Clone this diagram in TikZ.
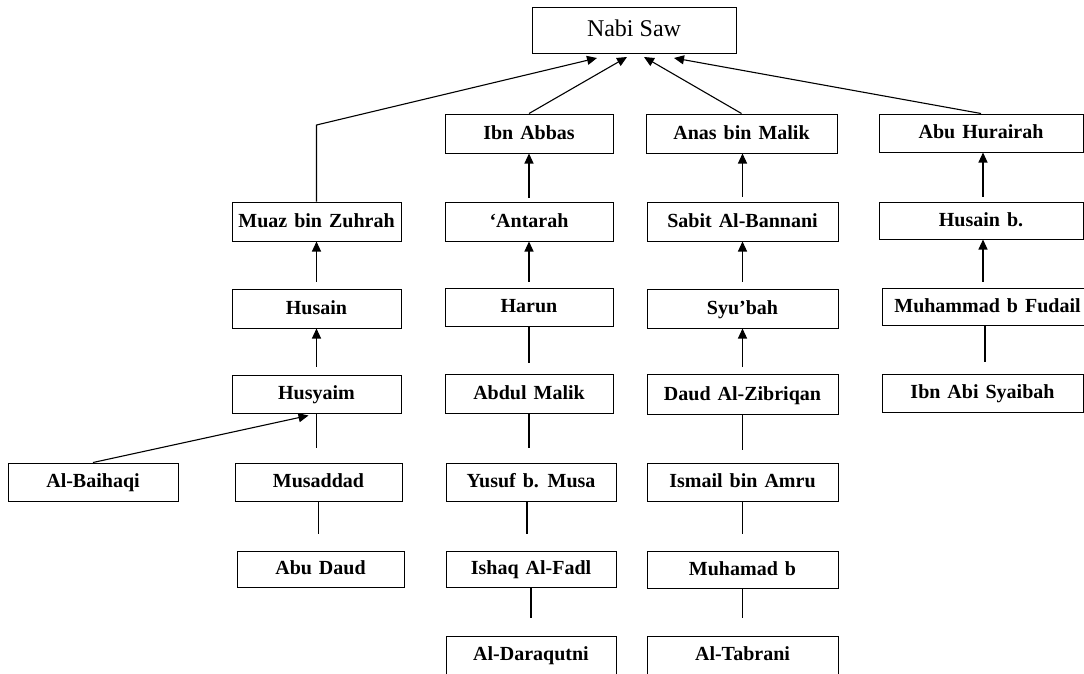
\documentclass[tikz,border=0pt]{standalone}
\usepackage{fontspec}
\setmainfont{Liberation Serif}
\usetikzlibrary{arrows.meta}
\newcommand\widewords{\spaceskip=7pt\relax}
\tikzset{
  box/.style={draw, line width=1pt, rectangle, inner sep=0pt, minimum height=39pt,
    text height=15pt, text depth=4pt,
    font=\fontsize{20}{23}\selectfont\bfseries\widewords},
  arr/.style={line width=1.1pt, -{Triangle[length=10pt,width=9pt]}},
  ln/.style={line width=1.1pt}
}
\begin{document}
\begin{tikzpicture}[x=1pt,y=-1pt]
\useasboundingbox (0,0) rectangle (1084,673);
% top
\node[draw, line width=1pt, minimum width=204pt, minimum height=46pt, inner sep=0pt,
  text height=17pt, text depth=5pt,
  font=\fontsize{24}{28}\selectfont] (nabi) at (634,30) {Nabi Saw};
\coordinate (t1) at (597,58);
\coordinate (t2) at (627,57);
\coordinate (t3) at (644,57);
\coordinate (t4) at (674,58);
\coordinate (corner) at (319,125);
% column A
\node[box, minimum width=169pt] (muaz) at (316.5,221.5) {Muaz bin Zuhrah};
\node[box, minimum width=169pt] (husain) at (316.5,308.5) {Husain};
\node[box, minimum width=169pt, minimum height=38pt] (husyaim) at (316.5,394) {Husyaim};
\node[box, minimum width=170pt, minimum height=38pt] (baihaqi) at (93,482) {Al-Baihaqi};
\node[box, minimum width=167pt, minimum height=38pt] (musaddad) at (318.5,482) {Musaddad};
\node[box, minimum width=167pt, minimum height=36pt] (abudaud) at (320.5,569) {Abu Daud};
% column B
\node[box, minimum width=168pt] (ibnabbas) at (529,133.5) {Ibn Abbas};
\node[box, minimum width=168pt] (antarah) at (529,221.5) {‘Antarah};
\node[box, minimum width=168pt, minimum height=38pt] (harun) at (529,307) {Harun};
\node[box, minimum width=168pt] (abdulmalik) at (529,393.5) {Abdul Malik};
\node[box, minimum width=170pt, minimum height=38pt] (yusuf) at (531,482) {Yusuf b. Musa};
\node[box, minimum width=170pt, minimum height=36pt] (ishaq) at (531,569) {Ishaq Al-Fadl};
\node[box, minimum width=170pt, minimum height=38pt] (daraqutni) at (531,655) {Al-Daraqutni};
% column C
\node[box, minimum width=191pt] (anas) at (741.5,133.5) {Anas bin Malik};
\node[box, minimum width=191pt] (sabit) at (742.5,221.5) {Sabit Al-Bannani};
\node[box, minimum width=191pt] (syubah) at (742.5,308.5) {Syu’bah};
\node[box, minimum width=191pt, minimum height=40pt] (daud) at (742.5,394.5) {Daud Al-Zibriqan};
\node[box, minimum width=191pt, minimum height=38pt] (ismail) at (742.5,482) {Ismail bin Amru};
\node[box, minimum width=191pt, minimum height=37pt] (muhamad) at (742.5,569.5) {Muhamad b};
\node[box, minimum width=191pt, minimum height=38pt] (tabrani) at (742.5,655) {Al-Tabrani};
% column D
\node[box, minimum width=204pt, minimum height=38pt] (abuhurairah) at (981,133) {Abu Hurairah};
\node[box, minimum width=204pt, minimum height=37pt] (husainb) at (981,220.5) {Husain b.};
\node[box, minimum width=211pt, minimum height=37pt] (fudail) at (987.5,306.5) {Muhammad b Fudail};
\node[box, minimum width=201pt, minimum height=38pt] (syaibah) at (982.5,393) {Ibn Abi Syaibah};
% connectors to Nabi Saw
\draw[arr] (muaz.north) -- (muaz.north |- corner) -- (t1);
\draw[arr] (ibnabbas.north) -- (t2);
\draw[arr] (anas.north) -- (t3);
\draw[arr] (abuhurairah.north) -- (t4);
% column A
\draw[arr] ([yshift=7pt]husain.north) -- (husain.north |- muaz.south);
\draw[arr] ([yshift=8pt]husyaim.north) -- (husyaim.north |- husain.south);
\draw[arr] (baihaqi.north) -- ([xshift=-8pt,yshift=-2pt]husyaim.south);
\draw[ln] (husyaim.south) -- ([yshift=15pt]husyaim.south |- musaddad.north);
\draw[ln] (musaddad.south) -- ([yshift=17pt]musaddad.south |- abudaud.north);
% column B
\draw[arr] ([yshift=4pt]antarah.north) -- (antarah.north |- ibnabbas.south);
\draw[arr] ([yshift=6pt]harun.north) -- (harun.north |- antarah.south);
\draw[ln] ([yshift=11pt]abdulmalik.north) -- (abdulmalik.north |- harun.south);
\draw[ln] (abdulmalik.south) -- ([yshift=15pt]abdulmalik.south |- yusuf.north);
\draw[ln] ([xshift=-4pt]yusuf.south) -- ([xshift=-4pt,yshift=17pt]yusuf.south |- ishaq.north);
\draw[ln] (ishaq.south) -- ([yshift=18pt]ishaq.south |- daraqutni.north);
% column C
\draw[arr] ([yshift=5pt]sabit.north) -- (sabit.north |- anas.south);
\draw[arr] ([yshift=7pt]syubah.north) -- (syubah.north |- sabit.south);
\draw[arr] ([yshift=7pt]daud.north) -- (daud.north |- syubah.south);
\draw[ln] (daud.south) -- ([yshift=13pt]daud.south |- ismail.north);
\draw[ln] (ismail.south) -- ([yshift=17pt]ismail.south |- muhamad.north);
\draw[ln] (muhamad.south) -- ([yshift=18pt]muhamad.south |- tabrani.north);
% column D
\draw[arr] ([xshift=2pt,yshift=5pt]husainb.north) -- ([xshift=2pt]husainb.north |- abuhurairah.south);
\draw[arr] ([xshift=-4.5pt,yshift=6pt]fudail.north) -- ([xshift=-4.5pt]fudail.north |- husainb.south);
\draw[ln] ([xshift=2.5pt,yshift=12pt]syaibah.north) -- ([xshift=2.5pt]syaibah.north |- fudail.south);
\end{tikzpicture}
\end{document}
